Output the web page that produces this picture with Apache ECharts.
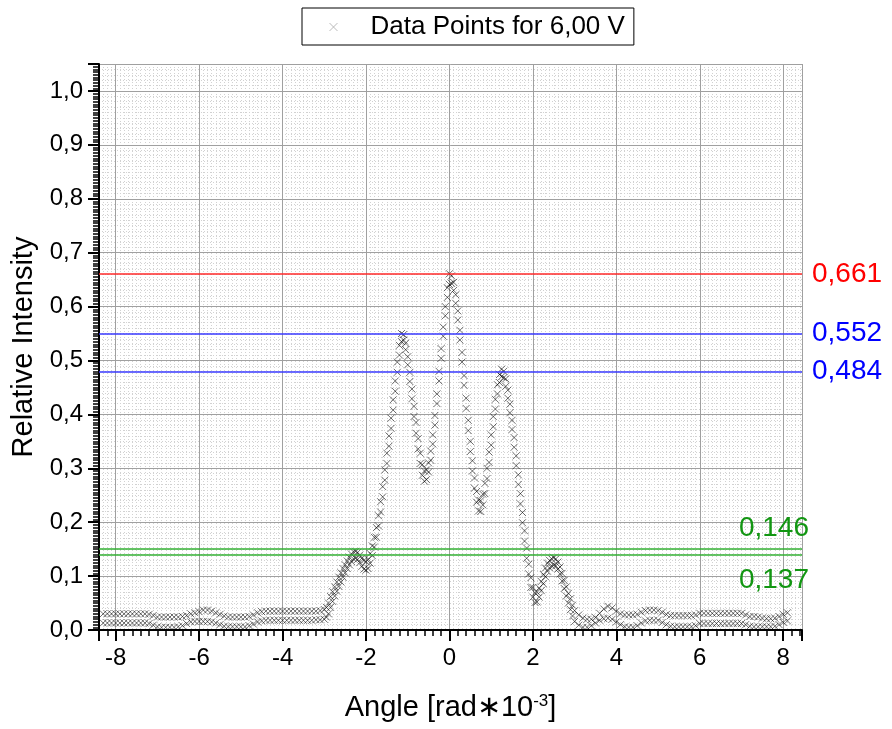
<!DOCTYPE html>
<html><head><meta charset="utf-8">
<script src="https://cdn.jsdelivr.net/npm/echarts@6/dist/echarts.min.js"></script>
<style>html,body{margin:0;padding:0;background:#fff}#c{width:892px;height:729px}</style>
</head><body><div id="c"></div>
<script>
// ---- data ----
const angleLeft = [-8.3,-8.2,-8.1,-8.0,-7.9,-7.8,-7.7,-7.6,-7.5,-7.4,-7.3,-7.2,-7.1,-7.0,-6.9,-6.8,-6.7,-6.6,-6.5,-6.4,-6.3,-6.2,-6.1,-6.0,-5.9,-5.8,-5.7,-5.6,-5.5,-5.4,-5.3,-5.2,-5.1,-5.0,-4.9,-4.8,-4.7,-4.6,-4.5,-4.4,-4.3,-4.2,-4.1,-4.0,-3.9,-3.8,-3.7,-3.6,-3.5,-3.4,-3.3,-3.2,-3.1,-3.0];
const upperLeft = [0.030,0.030,0.030,0.030,0.030,0.030,0.030,0.030,0.030,0.030,0.030,0.029,0.027,
  0.024,0.024,0.024,0.024,0.024,0.024,
  0.025,0.027,0.030,0.032,0.034,0.037,0.037,0.035,0.032,0.029,0.026,
  0.024,0.024,0.024,0.024,0.024,
  0.025,0.028,0.032,0.034,
  0.035,0.035,0.035,0.035,0.035,0.035,0.035,0.035,0.035,0.035,0.035,0.035,0.035,
  0.036,0.038];
const lowerLeft = [0.013,0.013,0.013,0.013,0.013,0.013,0.013,0.013,0.013,0.013,0.013,0.012,0.009,
  0.006,0.005,0.005,0.005,0.005,0.006,
  0.008,0.012,0.015,0.016,0.016,0.016,0.016,0.015,0.013,0.010,0.007,
  0.006,0.006,0.006,0.006,0.006,
  0.008,0.011,0.015,0.017,
  0.018,0.018,0.018,0.018,0.018,0.018,0.018,0.018,0.018,0.018,0.018,0.018,
  0.019,0.019,0.020];

const angleMid = [-2.95,-2.9,-2.85,-2.8,-2.75,-2.7,-2.65,-2.6,-2.55,-2.5,
  -2.45,-2.4,-2.35,-2.3,-2.25,-2.2,-2.15,-2.1,-2.05,-2.0,
  -1.95,-1.9,-1.85,-1.8,-1.75,-1.7,-1.65,-1.6,-1.55,-1.5,
  -1.45,-1.4,-1.35,-1.3,-1.25,-1.2,-1.15,-1.1,-1.05,-1.0,
  -0.95,-0.9,-0.85,-0.8,-0.75,-0.7,-0.65,-0.6,-0.55,-0.5,
  -0.45,-0.4,-0.35,-0.3,-0.25,-0.2,-0.15,-0.1,-0.05,0,
  0.05,0.1,0.15,0.2,0.25,0.3,0.35,0.4,0.45,0.5,
  0.55,0.6,0.65,0.7,0.75,0.8,0.85,0.9,0.95,1.0,
  1.05,1.1,1.15,1.2,1.25,1.3,1.35,1.4,1.45,1.5,
  1.55,1.6,1.65,1.7,1.75,1.8,1.85,1.9,1.95,2.0,
  2.05,2.1,2.15,2.2,2.25,2.3,2.35,2.4,2.45,2.5,
  2.55,2.6,2.65,2.7,2.75,2.8,2.85,2.9,2.95,3.0];
const upperMid = [0.042,0.050,0.062,0.071,0.080,0.089,0.098,0.106,0.114,0.121,
  0.128,0.135,0.141,0.145,0.146,0.144,0.139,0.133,0.129,0.127,
  0.131,0.142,0.156,0.172,0.190,0.212,0.238,0.266,0.297,0.328,
  0.360,0.393,0.427,0.462,0.497,0.528,0.550,0.548,0.532,0.507,
  0.478,0.447,0.415,0.385,0.355,0.328,0.307,0.295,0.297,0.310,
  0.332,0.362,0.398,0.438,0.480,0.522,0.562,0.600,0.635,0.661,
  0.657,0.645,0.622,0.592,0.556,0.515,0.472,0.430,0.389,0.350,
  0.314,0.282,0.257,0.241,0.240,0.252,0.272,0.300,0.330,0.362,
  0.396,0.428,0.455,0.474,0.484,0.480,0.466,0.445,0.419,0.389,
  0.357,0.323,0.288,0.253,0.218,0.184,0.152,0.122,0.097,0.079,
  0.069,0.070,0.078,0.090,0.103,0.115,0.124,0.129,0.132,0.134,
  0.132,0.126,0.117,0.105,0.092,0.080,0.068,0.058,0.046,0.036];
const lowerMid = [0.024,0.030,0.042,0.053,0.063,0.072,0.081,0.089,0.098,0.106,
  0.114,0.121,0.127,0.132,0.133,0.131,0.125,0.118,0.113,0.111,
  0.114,0.124,0.138,0.154,0.172,0.193,0.219,0.247,0.278,0.309,
  0.341,0.374,0.408,0.443,0.478,0.510,0.535,0.538,0.520,0.492,
  0.461,0.429,0.396,0.365,0.336,0.309,0.287,0.276,0.279,0.293,
  0.315,0.345,0.380,0.420,0.462,0.504,0.545,0.583,0.617,0.641,
  0.643,0.630,0.606,0.575,0.538,0.497,0.454,0.411,0.370,0.331,
  0.295,0.263,0.237,0.221,0.220,0.232,0.253,0.281,0.311,0.343,
  0.377,0.410,0.438,0.459,0.470,0.468,0.452,0.430,0.403,0.372,
  0.339,0.305,0.270,0.234,0.199,0.165,0.133,0.104,0.079,0.061,
  0.051,0.052,0.061,0.073,0.086,0.099,0.109,0.115,0.119,0.120,
  0.119,0.113,0.104,0.091,0.077,0.063,0.050,0.038,0.026,0.016];

const angleRight = [3.1,3.2,3.3,3.4,3.5,3.6,3.7,3.8,3.9,4.0,
  4.1,4.2,4.3,4.4,4.5,4.6,4.7,4.8,4.9,5.0,
  5.1,5.2,5.3,5.4,5.5,5.6,5.7,5.8,5.9,6.0,
  6.1,6.2,6.3,6.4,6.5,6.6,6.7,6.8,6.9,7.0,
  7.1,7.2,7.3,7.4,7.5,7.6,7.7,7.8,7.9,8.0,8.1];
const upperRight = [0.028,0.022,0.020,0.020,0.023,0.031,0.039,0.044,0.041,0.035,
  0.030,0.028,0.028,0.028,0.029,0.033,0.036,0.037,0.037,0.036,
  0.033,0.029,0.027,0.027,0.027,0.027,0.027,0.027,0.028,0.031,
  0.031,0.031,0.031,0.031,0.031,0.031,0.031,0.031,0.031,0.031,
  0.028,0.025,0.025,0.024,0.022,0.021,0.021,0.022,0.025,0.029,0.032];
const lowerRight = [0.009,0.005,0.005,0.008,0.013,0.018,0.021,0.022,0.020,0.015,
  0.010,0.006,0.005,0.005,0.008,0.013,0.017,0.018,0.018,0.018,
  0.014,0.010,0.007,0.006,0.006,0.006,0.006,0.006,0.008,0.012,
  0.012,0.012,0.012,0.012,0.012,0.012,0.012,0.012,0.012,0.012,
  0.010,0.007,0.006,0.006,0.006,0.006,0.006,0.007,0.010,0.014,0.017];

const seriesName = 'Data Points for 6,00 V';
const refValues = [0.661, 0.552, 0.484, 0.146, 0.137];
const xAxisName = 'Angle [rad\u221710{sup|-3}]';
const yAxisName = 'Relative Intensity';

// ---- build ----
const angles = angleLeft.concat(angleMid, angleRight);
const upper = upperLeft.concat(upperMid, upperRight);
const lower = lowerLeft.concat(lowerMid, lowerRight);
const upperData = angles.map((x, i) => [x, upper[i]]);
const lowerData = angles.map((x, i) => [x, lower[i]]);

const FONT = '"Liberation Sans", Arial, Helvetica, sans-serif';
const X_SYMBOL = 'path://M0,0L10,10M10,0L0,10';
const markerStyle = {color: 'rgba(0,0,0,0.7)', borderColor: 'rgba(0,0,0,0.7)', borderWidth: 1};
const refStyles = [
  {line: '#ff2a2a', text: '#ff0000', position: 'end', distance: 10},
  {line: '#3a3aff', text: '#0000ff', position: 'end', distance: 10},
  {line: '#3a3aff', text: '#0000ff', position: 'end', distance: 10},
  {line: '#33b033', text: '#129612', position: 'insideEndTop', distance: [-7, 7]},
  {line: '#33b033', text: '#129612', position: 'insideEndBottom', distance: [-7, 12]}
];
const fmtComma = (v, d) => v.toFixed(d).replace('.', ',');

const chart = echarts.init(document.getElementById('c'));
chart.setOption({
  animation: false,
  textStyle: {fontFamily: FONT},
  grid: {left: 99, right: 90, top: 64, bottom: 99},
  legend: {
    left: 302, top: 8,
    padding: [6, 9, 5, 27],
    borderColor: '#000', borderWidth: 1,
    itemWidth: 8, itemHeight: 8,
    data: [{name: seriesName, icon: X_SYMBOL, itemStyle: {color: '#aaa', borderColor: '#aaa', borderWidth: 1}}],
    textStyle: {fontSize: 26, color: '#000', fontFamily: FONT, padding: [0, 0, 0, 28]}
  },
  xAxis: [
    {
      type: 'value', min: -8.4, max: 8.45, splitNumber: 8, z: 3,
      name: xAxisName, nameLocation: 'middle', nameGap: 63,
      nameTextStyle: {fontSize: 29, color: '#000', fontFamily: FONT,
        rich: {sup: {fontSize: 17, color: '#000', fontFamily: FONT, verticalAlign: 'top'}}},
      axisLine: {show: true, onZero: false, lineStyle: {color: '#000', width: 2}},
      axisTick: {show: true, inside: false, length: 11, lineStyle: {color: '#000', width: 2}},
      minorTick: {show: true, splitNumber: 10, length: 6, lineStyle: {color: '#000', width: 1.5}},
      axisLabel: {fontSize: 24, color: '#000', fontFamily: FONT, margin: 16,
        showMinLabel: false, showMaxLabel: false,
        formatter: v => Math.abs(v - Math.round(v)) > 1e-6 ? '' : String(Math.round(v))},
      splitLine: {show: true, lineStyle: {color: '#a0a0a0', width: 1}},
      minorSplitLine: {show: false}
    },
    {
      type: 'value', min: -8.4, max: 8.45, interval: 0.1, z: 1, position: 'bottom',
      axisLine: {show: false}, axisTick: {show: false}, axisLabel: {show: false},
      splitLine: {show: true, lineStyle: {color: '#d2d2d2', width: 1, type: [1, 2]}}
    }
  ],
  yAxis: [
    {
      type: 'value', min: 0, max: 1.05, interval: 0.1, z: 3,
      name: yAxisName, nameLocation: 'middle', nameGap: 48, nameRotate: 90,
      nameTextStyle: {fontSize: 29, color: '#000', fontFamily: FONT},
      axisLine: {show: true, onZero: false, lineStyle: {color: '#000', width: 2}},
      axisTick: {show: true, inside: false, length: 11, lineStyle: {color: '#000', width: 2}},
      minorTick: {show: true, splitNumber: 20, length: 6, lineStyle: {color: '#000', width: 1.5}},
      axisLabel: {fontSize: 24, color: '#000', fontFamily: FONT, margin: 16,
        formatter: v => v > 1.0001 ? '' : fmtComma(v, 1)},
      splitLine: {show: true, lineStyle: {color: '#a0a0a0', width: 1}}
    },
    {
      type: 'value', min: 0, max: 1.05, interval: 0.01, z: 1, position: 'left',
      axisLine: {show: false}, axisTick: {show: false}, axisLabel: {show: false},
      splitLine: {show: true, lineStyle: {color: '#d2d2d2', width: 1, type: [1, 2]}}
    }
  ],
  series: [
    {
      name: seriesName, type: 'scatter', xAxisIndex: 0, yAxisIndex: 0, z: 4,
      symbol: X_SYMBOL, symbolSize: 7, itemStyle: markerStyle,
      data: upperData, silent: true,
      markLine: {
        silent: true, symbol: ['none', 'none'], animation: false, z: 5,
        data: refValues.map((v, i) => ({
          yAxis: v,
          lineStyle: {color: refStyles[i].line, width: 1.5, type: 'solid', opacity: 1},
          label: {show: true, position: refStyles[i].position, distance: refStyles[i].distance,
            formatter: fmtComma(v, 3), color: refStyles[i].text, fontSize: 28, fontFamily: FONT}
        }))
      }
    },
    {
      name: seriesName, type: 'scatter', xAxisIndex: 0, yAxisIndex: 0, z: 4,
      symbol: X_SYMBOL, symbolSize: 7, itemStyle: markerStyle,
      data: lowerData, silent: true
    }
  ]
});
</script></body></html>
